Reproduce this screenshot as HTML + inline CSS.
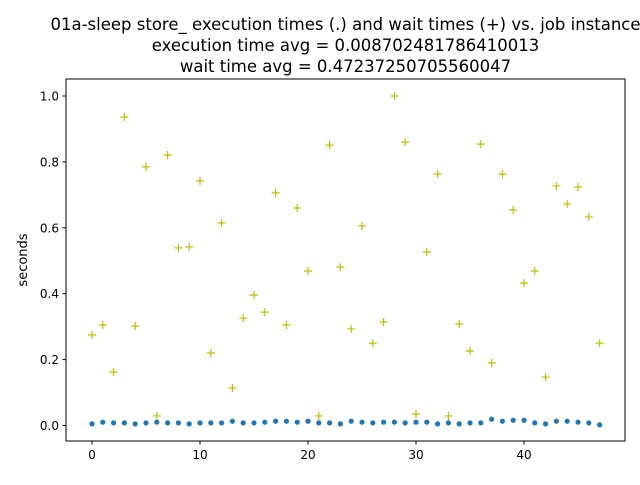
<!DOCTYPE html>
<html><head><meta charset="utf-8"><style>
body{margin:0;background:#fff;}
svg text{font-family:"DejaVu Sans","Liberation Sans",sans-serif;fill:#000;}
</style></head><body>
<svg id="chart" width="640" height="480" xmlns="http://www.w3.org/2000/svg">
<rect width="640" height="480" fill="#fff"/>
<g font-size="16.5" text-anchor="middle">
<text x="345.5" y="30">01a-sleep store_ execution times (.) and wait times (+) vs. job instance</text>
<text x="345.5" y="51">execution time avg = 0.008702481786410013</text>
<text x="345.5" y="72">wait time avg = 0.47237250705560047</text>
</g>
<g id="xticks"></g>
<g id="yticks"></g>
<text font-size="13" text-anchor="middle" transform="translate(27,260) rotate(-90)">seconds</text>
<g id="marks"></g>
<rect x="66" y="79" width="559" height="362" fill="none" stroke="#000" stroke-width="1"/>
</svg>
<script>
const jobs = Array.from({length:48},(_,i)=>i);
const waitTimes = [0.275,0.305,0.162,0.936,0.302,0.785,0.029,0.821,0.539,0.542,0.742,0.22,0.615,0.114,0.326,0.396,0.344,0.706,0.305,0.66,0.469,0.029,0.851,0.481,0.293,0.606,0.25,0.314,1.0,0.86,0.035,0.527,0.763,0.029,0.308,0.226,0.854,0.19,0.763,0.654,0.432,0.469,0.147,0.727,0.672,0.724,0.633,0.25];
const execTimes = [0.005,0.01,0.008,0.008,0.005,0.008,0.01,0.008,0.008,0.005,0.008,0.008,0.008,0.013,0.008,0.008,0.01,0.013,0.013,0.01,0.013,0.008,0.008,0.005,0.013,0.01,0.008,0.01,0.01,0.008,0.01,0.01,0.005,0.008,0.005,0.008,0.008,0.019,0.013,0.016,0.016,0.008,0.005,0.013,0.013,0.01,0.008,0.002];
const xTicks = [0,10,20,30,40];
const yTicks = [0.0,0.2,0.4,0.6,0.8,1.0];
const NS="http://www.w3.org/2000/svg";
const xs = v => 92 + v*10.8;
const ys = v => 425.5 - v*329.5;
function el(t,a,p){const e=document.createElementNS(NS,t);for(const k in a)e.setAttribute(k,a[k]);p.appendChild(e);return e;}
const xg=document.getElementById('xticks'), yg=document.getElementById('yticks'), mg=document.getElementById('marks');
xTicks.forEach(t=>{
  const l=el('line',{x1:xs(t),x2:xs(t),y1:441,y2:444.5,stroke:'#000'},xg);
  
  
  const tx=el('text',{x:xs(t),y:459,'font-size':'12','text-anchor':'middle'},xg);
  tx.textContent=t;
  
  
});
yTicks.forEach(t=>{
  const l=el('line',{x1:62.5,x2:66,y1:ys(t),y2:ys(t),stroke:'#000'},yg);
  
  
  const tx=el('text',{x:59,y:ys(t)+4.5,'font-size':'12','text-anchor':'end'},yg);
  tx.textContent=t.toFixed(1);
  
  
});
jobs.forEach((j,i)=>{
  const x=xs(j), y=ys(waitTimes[i]);
  const p=el('path',{d:`M${x-4},${y}H${x+4}M${x},${y-4}V${y+4}`,stroke:'#bfbf00','stroke-width':'1.2',fill:'none'},mg);
  
  
  const c=el('circle',{cx:x,cy:ys(execTimes[i]),r:2.6,fill:'#1f77b4'},mg);
  
  
});
</script>
</body></html>
